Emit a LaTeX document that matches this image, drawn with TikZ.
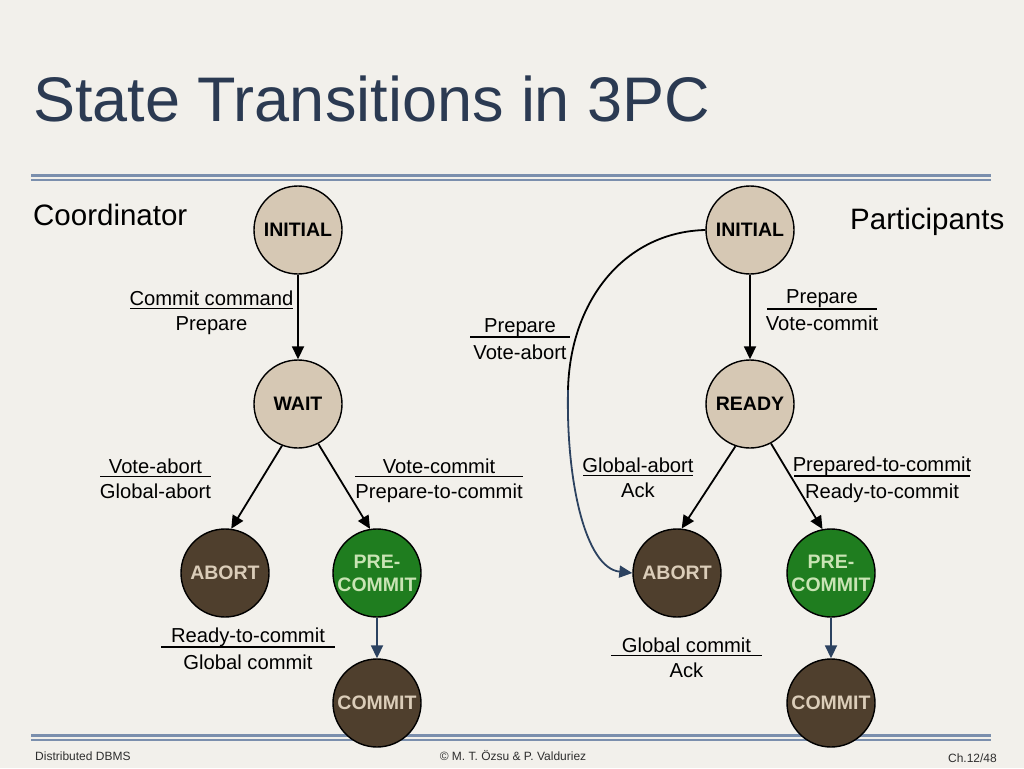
\documentclass[tikz,border=0pt]{standalone}
\usepackage{fontspec}
\setmainfont{Liberation Sans}
\usetikzlibrary{arrows.meta}
\definecolor{bg}{HTML}{F2F0EB}
\definecolor{titlec}{HTML}{2B3A52}
\definecolor{rulec}{HTML}{7B8FAD}
\definecolor{tanc}{HTML}{D6C8B4}
\definecolor{tantext}{HTML}{DBCDB9}
\definecolor{brownc}{HTML}{4F3F2D}
\definecolor{greenc}{HTML}{1F7D1F}
\definecolor{lgreen}{HTML}{C9E4B4}
\definecolor{bluec}{HTML}{2C4260}
\definecolor{footc}{HTML}{2E2E2E}
\newcommand{\translab}[3]{\vbox{\offinterlineskip
  \hbox to #1{\hss\rule[-2.5pt]{0pt}{26pt}#2\hss}
  \hrule height 1.8pt
  \hbox to #1{\hss\rule[-5pt]{0pt}{26pt}#3\hss}}}
\begin{document}
\begin{tikzpicture}[x=1pt,y=-1pt,
  st/.style={circle, draw=black, line width=1.4pt, minimum size=88pt, inner sep=0pt,
    font=\fontsize{19.5}{23}\selectfont\bfseries, align=center},
  tanst/.style={st, fill=tanc, text=black},
  darkst/.style={st, fill=brownc, text=tantext},
  greenst/.style={st, fill=greenc, text=lgreen},
  arr/.style={-{Triangle[length=13pt,width=12pt]}, line width=1.8pt},
  lab/.style={inner sep=0pt, font=\fontsize{20.2}{22}\selectfont},
  foot/.style={inner sep=0pt, text=footc, font=\fontsize{12}{14}\selectfont}]
\useasboundingbox (0,0) rectangle (1024,768);
\fill[bg] (0,0) rectangle (1024,768);
% title
\node[anchor=base west, inner sep=0pt, text=titlec, font=\fontsize{63}{70}\selectfont] (title) at (33,121) {State Transitions in 3PC};
% rules
\draw[rulec, line width=2.5pt] (31,175.5) -- (991,175.5);
\draw[rulec, line width=2pt] (31,180) -- (991,180);
\draw[rulec, line width=2.5pt] (31,735.5) -- (991,735.5);
\draw[rulec, line width=2pt] (31,740) -- (991,740);
% headings
\node[anchor=base west, inner sep=0pt, font=\fontsize{29.5}{32}\selectfont] (coord) at (33,225) {Coordinator};
\node[anchor=base west, inner sep=0pt, font=\fontsize{29.5}{32}\selectfont] (part) at (850,229) {Participants};
% coordinator states
\node[tanst] (cinit) at (298,230) {INITIAL};
\node[tanst] (cwait) at (298,404) {WAIT};
\node[darkst] (cabort) at (225,573) {ABORT};
\node[greenst] (cpre) at (377,573) {PRE-\\COMMIT};
\node[darkst] (ccommit) at (377,703) {COMMIT};
% participant states
\node[tanst] (pinit) at (750,230) {INITIAL};
\node[tanst] (pready) at (750,404) {READY};
\node[darkst] (pabort) at (677,573) {ABORT};
\node[greenst] (ppre) at (831,573) {PRE-\\COMMIT};
\node[darkst] (pcommit) at (831,703) {COMMIT};
% coordinator transitions
\draw[arr] (cinit.south) -- (cwait.north);
\draw[arr] (cwait.-111) -- (cabort.82);
\draw[arr] (cwait.-63) -- (cpre.99);
\draw[arr, bluec] (cpre.south) -- (ccommit.north);
% participant transitions
\draw[arr] (pinit.south) -- (pready.north);
\draw[arr] (pready.-109) -- (pabort.84);
\draw[arr] (pready.-62) -- (ppre.101);
\draw[arr, bluec] (ppre.south) -- (pcommit.north);
\coordinate (cm) at (568,390);
\draw[line width=1.8pt] (pinit.west) .. controls (625,232) and (570,300) .. (cm);
\draw[arr, bluec] (cm) .. controls (566,480) and (585,568) .. (pabort.west);
% labels
\node[lab] (l1) at (211.5,308.5) {\translab{163pt}{Commit command}{Prepare}};
\node[lab] (l2) at (520,336.5) {\translab{100pt}{Prepare}{Vote-abort}};
\node[lab] (l3) at (822,308) {\translab{110pt}{Prepare}{Vote-commit}};
\node[lab] (l4) at (155.5,476.5) {\translab{111pt}{Vote-abort}{Global-abort}};
\node[lab] (l5) at (439,476.5) {\translab{168pt}{Vote-commit}{Prepare-to-commit}};
\node[lab] (l6) at (638,475.5) {\translab{110pt}{Global-abort}{Ack}};
\node[lab] (l7) at (882,475.5) {\translab{176pt}{Prepared-to-commit}{Ready-to-commit}};
\node[lab] (l8) at (248,646.5) {\translab{174pt}{Ready-to-commit}{Global commit}};
\node[lab] (l9) at (686.5,655.5) {\translab{151pt}{Global commit}{Ack}};
% footer
\node[foot, anchor=base west] (f1) at (35,760) {Distributed DBMS};
\node[foot, anchor=base] (f2) at (513,760) {© M. T. Özsu \& P. Valduriez};
\node[foot, anchor=base east] (f3) at (997,762) {Ch.12/48};
\end{tikzpicture}
\end{document}
